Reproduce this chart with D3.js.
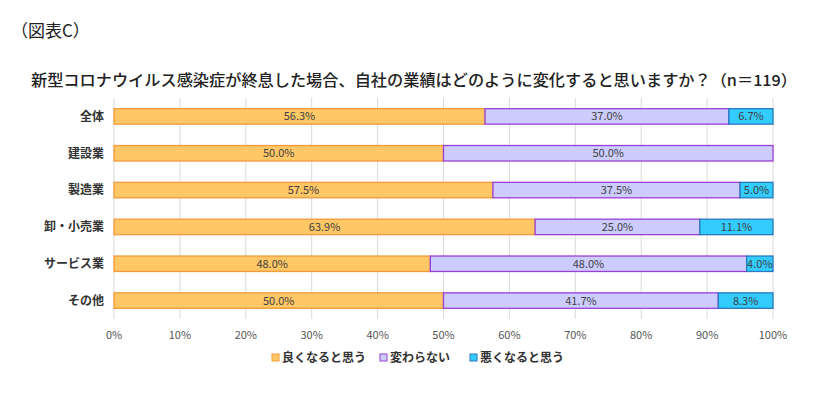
<!DOCTYPE html>
<html>
<head>
<meta charset="utf-8">
<script src="https://cdn.jsdelivr.net/npm/d3@7"></script>
<style>
  body { margin: 0; background: #fff; }
  svg text { font-family: "Noto Sans CJK JP", "Noto Sans", sans-serif; }
</style>
</head>
<body>
<div id="chart"></div>
<script>
const categories = ['全体', '建設業', '製造業', '卸・小売業', 'サービス業', 'その他'];
const seriesNames = ['良くなると思う', '変わらない', '悪くなると思う'];
const better = [56.3, 50.0, 57.5, 63.9, 48.0, 50.0];
const same = [37.0, 50.0, 37.5, 25.0, 48.0, 41.7];
const worse = [6.7, 0, 5.0, 11.1, 4.0, 8.3];
const xTicks = [0, 10, 20, 30, 40, 50, 60, 70, 80, 90, 100];

const fills = ['#ffc766', '#ccccff', '#33ccff'];
const strokes = ['#f59a3c', '#9a3fd6', '#2a78c0'];

const width = 840, height = 395;
const margin = { top: 98, right: 67, bottom: 76, left: 114 };

const svg = d3.select('#chart').append('svg')
    .attr('width', width)
    .attr('height', height);

svg.append('text')
    .attr('x', 11)
    .attr('y', 37)
    .style('font-size', '17px')
    .style('fill', '#222')
    .text('（図表C）');

svg.append('text')
    .attr('x', 31)
    .attr('y', 86)
    .attr('textLength', 766)
    .attr('lengthAdjust', 'spacingAndGlyphs')
    .style('font-size', '15.5px')
    .style('font-weight', '500')
    .style('fill', '#222')
    .text('新型コロナウイルス感染症が終息した場合、自社の業績はどのように変化すると思いますか？（n＝119）');

const x = d3.scaleLinear().domain([0, 100]).range([margin.left, width - margin.right]);
const y = d3.scaleBand().domain(categories).range([margin.top, height - margin.bottom]).paddingInner(0.58).paddingOuter(0.29);

// grid
svg.append('g')
    .selectAll('line')
    .data(xTicks)
    .enter().append('line')
    .attr('x1', d => x(d)).attr('x2', d => x(d))
    .attr('y1', margin.top).attr('y2', height - margin.bottom)
    .style('stroke', '#d9d9d9')
    .style('stroke-width', 1);

// stacked data
const rows = categories.map((c, i) => ({ cat: c, vals: [better[i], same[i], worse[i]] }));
const stack = [];
rows.forEach(r => {
    let acc = 0;
    r.vals.forEach((v, k) => {
        stack.push({ cat: r.cat, k: k, v: v, x0: acc, x1: acc + v });
        acc += v;
    });
});
const segs = stack.filter(d => d.v > 0);

svg.append('g')
    .selectAll('rect')
    .data(segs)
    .enter().append('rect')
    .attr('x', d => x(d.x0))
    .attr('y', d => y(d.cat))
    .attr('width', d => x(d.x1) - x(d.x0))
    .attr('height', y.bandwidth())
    .style('fill', d => fills[d.k])
    .style('stroke', d => strokes[d.k])
    .style('stroke-width', 1.3);

svg.append('g')
    .selectAll('text')
    .data(segs)
    .enter().append('text')
    .attr('x', d => (x(d.x0) + x(d.x1)) / 2)
    .attr('y', d => y(d.cat) + y.bandwidth() / 2)
    .attr('dy', '0.36em')
    .attr('text-anchor', 'middle')
    .style('font-size', '11px')
    .style('fill', '#404040')
    .text(d => d.v.toFixed(1) + '%');

// category labels
svg.append('g')
    .selectAll('text')
    .data(categories)
    .enter().append('text')
    .attr('x', margin.left - 10)
    .attr('y', d => y(d) + y.bandwidth() / 2)
    .attr('dy', '0.36em')
    .attr('text-anchor', 'end')
    .style('font-size', '12px')
    .style('font-weight', 'bold')
    .style('fill', '#333')
    .text(d => d);

// x tick labels
svg.append('g')
    .selectAll('text')
    .data(xTicks)
    .enter().append('text')
    .attr('x', d => x(d))
    .attr('y', height - margin.bottom + 20)
    .attr('text-anchor', 'middle')
    .style('font-size', '11px')
    .style('fill', '#555')
    .text(d => d + '%');

// legend
const legendX = [272, 380, 470];
const legend = svg.append('g')
    .selectAll('g')
    .data(seriesNames)
    .enter().append('g')
    .attr('transform', (d, i) => `translate(${legendX[i]},358)`);

legend.append('rect')
    .attr('x', 0).attr('y', -4)
    .attr('width', 7).attr('height', 7)
    .style('fill', (d, i) => fills[i])
    .style('stroke', (d, i) => strokes[i])
    .style('stroke-width', 1);

legend.append('text')
    .attr('x', 10)
    .attr('y', 0)
    .attr('dy', '0.36em')
    .style('font-size', '12px')
    .style('font-weight', 'bold')
    .style('fill', '#333')
    .text(d => d);
</script>
</body>
</html>
